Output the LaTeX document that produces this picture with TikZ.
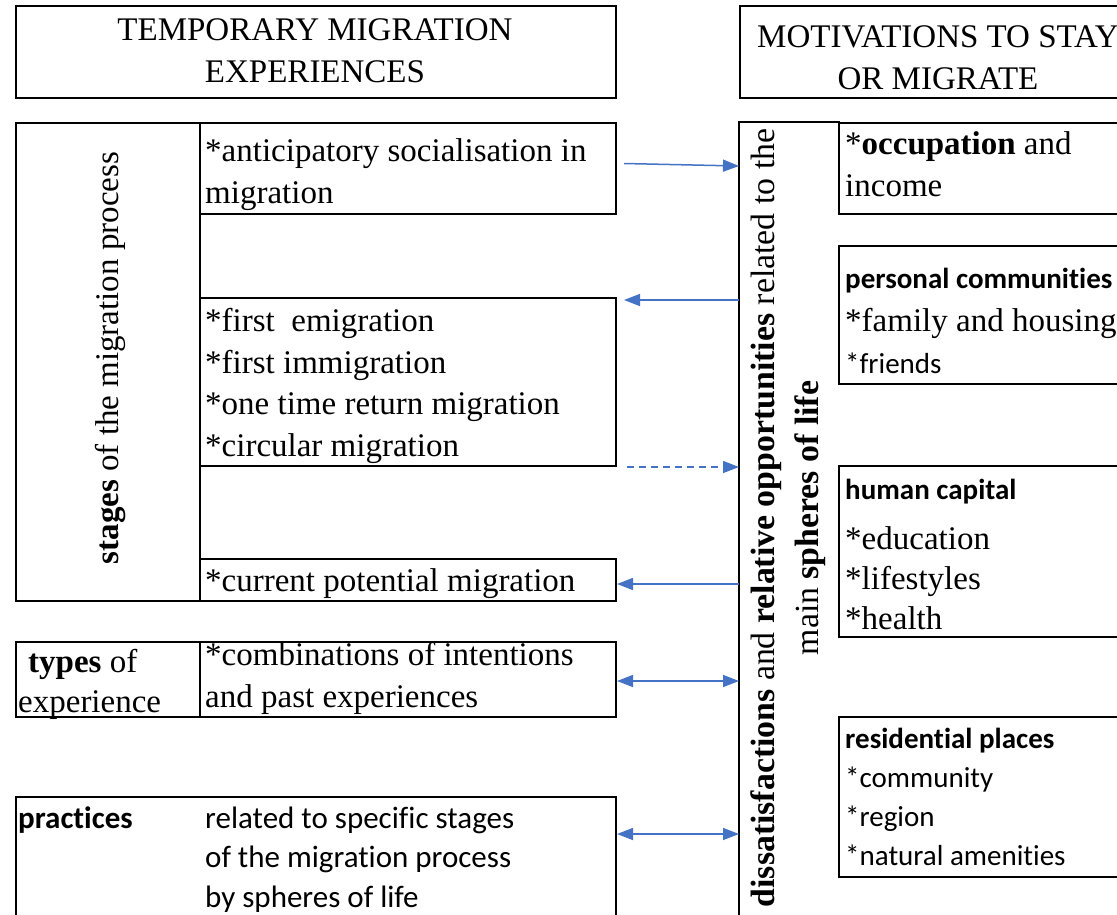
\documentclass[tikz,border=0pt]{standalone}
\usepackage{fontspec}
\setmainfont{Liberation Serif}
\newfontfamily\calib[Ligatures=CommonOff]{Carlito}
\usetikzlibrary{arrows.meta,calc}
\definecolor{arrowblue}{HTML}{4472C4}
\tikzset{
  box/.style={draw, line width=2pt, anchor=north west, inner sep=0pt},
  tm/.style={font=\fontsize{33}{41.5}\selectfont, inner sep=0pt, align=left, anchor=base west},
  cb/.style={font=\calib\fontsize{29}{39}\selectfont, inner sep=0pt, align=left, anchor=base west},
  arr/.style={draw=arrowblue, line width=1.5pt, -{Triangle[length=16pt,width=12pt]}},
  darr/.style={draw=arrowblue, line width=1.5pt, {Triangle[length=16pt,width=12pt]}-{Triangle[length=16pt,width=12pt]}}
}
\begin{document}
\begin{tikzpicture}[x=1pt,y=-1pt]
  \useasboundingbox (0,0) rectangle (1117,914);
  \clip (0,0) rectangle (1117,914);
  % titles
  \node[box, minimum width=600pt, minimum height=92pt] (ttlexp) at (15,5) {};
  \node[tm, align=center, anchor=base] (ttlexptxt) at (315,82) {TEMPORARY MIGRATION\\EXPERIENCES};
  \node[box, minimum width=400pt, minimum height=92pt] (ttlmot) at (739,5) {};
  \node[tm, align=center, anchor=base] (ttlmottxt) at (938,89) {MOTIVATIONS TO STAY\\OR MIGRATE};
  % left side: stages
  \node[box, minimum width=184pt, minimum height=478pt] (stg) at (15,122) {};
  \node[tm, rotate=90, anchor=base] (stgtxt) at (118,358) {\textbf{stages} of the migration process};
  \node[box, minimum width=416pt, minimum height=91pt] (antic) at (199,122) {};
  \node[tm] (antictxt) at (205,203) {*anticipatory socialisation in\\migration};
  \node[box, minimum width=416pt, minimum height=168pt] (first) at (199,297) {};
  \node[tm] (firsttxt) at (205,456) {*first\ \ emigration\\*first immigration\\*one time return migration\\*circular migration};
  \node[box, minimum width=416pt, minimum height=42pt] (curr) at (199,558) {};
  \node[tm] (currtxt) at (205,591) {*current potential migration};
  % types
  \node[box, minimum width=184pt, minimum height=75pt] (typ) at (15,641) {};
  \node[tm] (typtxt1) at (28,672) {\textbf{types} of};
  \node[tm] (typtxt2) at (18,712) {experience};
  \node[box, minimum width=416pt, minimum height=75pt] (comb) at (199,641) {};
  \node[tm] (combtxt) at (205,707) {*combinations of intentions\\and past experiences};
  % practices
  \node[box, minimum width=600pt, minimum height=140pt] (prac) at (15,796) {};
  \node[cb, font=\calib\fontsize{31}{39.5}\selectfont] (practxt1) at (18,828) {\bfseries practices};
  \node[cb, font=\calib\fontsize{31}{39.5}\selectfont] (practxt2) at (205,907) {related to specific stages\\of the migration process\\by spheres of life};
  % right side
  \node[box, draw=none, minimum width=99pt, minimum height=820pt] (dis) at (739,122) {};
  \draw[line width=2pt] (dis.south west) -- (dis.north west) -- (dis.north east);
  \node[tm, rotate=90, align=center, anchor=center, font=\fontsize{33.8}{44}\selectfont] (distxt) at (788,518)
    {\textbf{dissatisfactions} and \textbf{relative opportunities} related to the\\main \textbf{spheres of life}};
  \node[box, minimum width=300pt, minimum height=91pt] (occ) at (838,122) {};
  \node[tm] (occtxt) at (845,196) {*\textbf{occupation} and\\income};
  \node[box, minimum width=300pt, minimum height=138pt] (pers) at (838,245) {};
  \node[cb] (perstxt1) at (845,288) {\bfseries personal communities};
  \node[tm] (perstxt2) at (845,331) {*family and housing};
  \node[cb] (perstxt3) at (845,373) {*friends};
  \node[box, minimum width=300pt, minimum height=171pt] (hum) at (838,465) {};
  \node[cb] (humtxt1) at (845,499) {\bfseries human capital};
  \node[tm, font=\fontsize{33}{40}\selectfont] (humtxt2) at (845,629) {*education\\*lifestyles\\*health};
  \node[box, minimum width=300pt, minimum height=160pt] (res) at (838,716) {};
  \node[cb] (restxt) at (845,865) {\bfseries residential places\\*community\\*region\\*natural amenities};
  % connectors
  \draw[arr] ([xshift=7pt,yshift=5pt]antic.east) -- ($(dis.west |- antic.east)+(0,-2.5)$);
  \coordinate (firsttop) at ([xshift=7pt,yshift=-3pt]first.north east);
  \draw[arr] (dis.west |- firsttop) -- (firsttop);
  \draw[arr, dash pattern=on 7pt off 5pt] ([xshift=10pt]first.south east) -- (dis.west |- first.south east);
  \draw[arr] ($(dis.west |- curr.east)+(0,4)$) -- ($(curr.east)+(0,4)$);
  \draw[darr] ($(comb.east)+(0,1.5)$) -- ($(dis.west |- comb.east)+(0,1.5)$);
  \coordinate (pracarr) at ([yshift=-38pt]prac.north east);
  \draw[darr] (pracarr) -- (dis.west |- pracarr);
\end{tikzpicture}
\end{document}
